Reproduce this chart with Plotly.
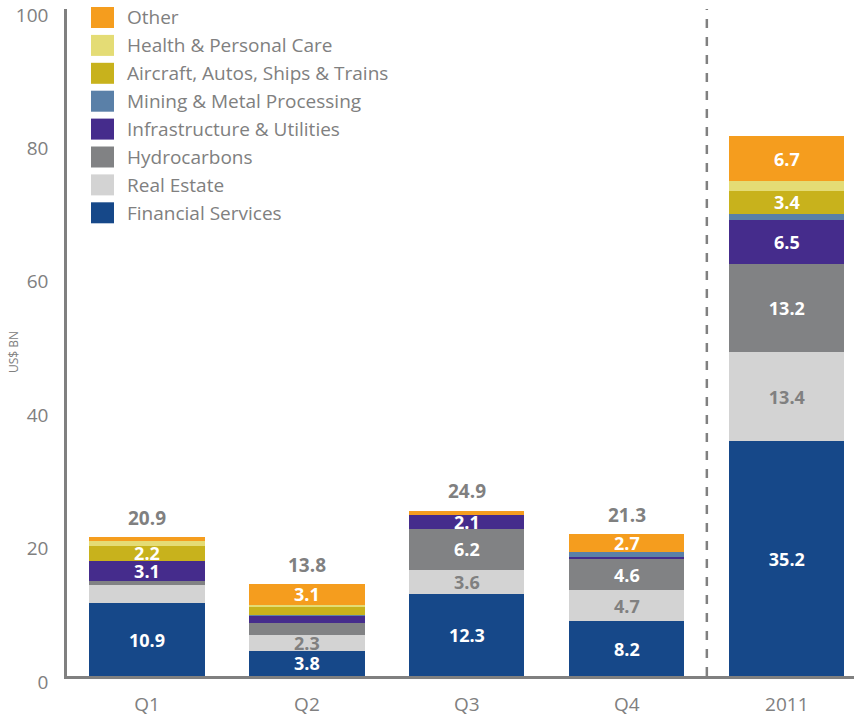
import plotly.graph_objects as go

categories = ["Q1", "Q2", "Q3", "Q4", "2011"]
series_names = ["Financial Services", "Real Estate", "Hydrocarbons", "Infrastructure & Utilities",
                "Mining & Metal Processing", "Aircraft, Autos, Ships & Trains",
                "Health & Personal Care", "Other"]
financial = [10.9, 3.8, 12.3, 8.2, 35.2]
real_estate = [2.8, 2.3, 3.6, 4.7, 13.4]
hydrocarbons = [0.5, 1.8, 6.2, 4.6, 13.2]
infrastructure = [3.1, 1.1, 2.1, 0.3, 6.5]
mining = [0.0, 0.2, 0.0, 0.8, 1.0]
aircraft = [2.2, 1.1, 0.0, 0.0, 3.4]
health = [0.8, 0.4, 0.0, 0.0, 1.5]
other = [0.6, 3.1, 0.5, 2.7, 6.7]
totals = [20.9, 13.8, 24.9, 21.3, 80.9]
y_ticks = [0, 20, 40, 60, 80, 100]
# segment labels the reference leaves out
unlabelled = {("Real Estate", "Q1")}

values = [financial, real_estate, hydrocarbons, infrastructure, mining, aircraft, health, other]
colors = ["#164889", "#d3d3d3", "#818284", "#452c8c", "#5a80a8", "#c8b21c", "#e4dc75", "#f59d1e"]
label_colors = ["white", "#808080", "white", "white", "white", "white", "white", "white"]

GRAY = "#808080"
FONT = "Open Sans"
W, H = 854, 722
ML, MR, MT, MB = 67, 0, 9, 46
PW, PH = W - ML - MR, H - MT - MB

def px_x(x):
    return (x - ML) / PW

def px_y(y):
    return (H - MB - y) / PH

fig = go.Figure()
for name, vals, col, lc in zip(series_names, values, colors, label_colors):
    texts = [f"{v:.1f}" if (v >= 2 and (name, c) not in unlabelled) else ""
             for v, c in zip(vals, categories)]
    fig.add_trace(go.Bar(
        x=categories, y=vals, name=name, marker=dict(color=col, line=dict(width=0)),
        text=texts, textposition="inside", insidetextanchor="middle",
        textfont=dict(color=lc, size=18, family=FONT, weight="bold"),
        hoverinfo="skip", showlegend=False,
    ))

# totals above bars
for c, t in zip(categories, totals):
    fig.add_annotation(x=c, y=t, text=f"{t:.1f}", showarrow=False, yanchor="bottom", yshift=4,
                       font=dict(color=GRAY, size=19, family=FONT, weight="bold"))

# legend drawn manually (Other on top)
for i, (name, col) in enumerate(zip(reversed(series_names), reversed(colors))):
    cy = 17.5 + 27.9 * i
    fig.add_shape(type="rect", xref="paper", yref="paper",
                  x0=px_x(91), x1=px_x(114), y0=px_y(cy + 10.5), y1=px_y(cy - 10.5),
                  fillcolor=col, line=dict(width=0))
    fig.add_annotation(xref="paper", yref="paper", x=px_x(125), y=px_y(cy), text=name,
                       showarrow=False, xanchor="left", yanchor="middle",
                       font=dict(color=GRAY, size=19, family=FONT))

# y axis title
fig.add_annotation(xref="paper", yref="paper", x=px_x(14), y=px_y(352), text="US$ BN",
                   textangle=-90, showarrow=False, xanchor="center", yanchor="middle",
                   font=dict(color=GRAY, size=12, family=FONT))

# dashed separator between Q4 and 2011
fig.add_shape(type="line", xref="x", yref="paper", x0=3.5, x1=3.5, y0=0, y1=1,
              line=dict(color=GRAY, width=2.5, dash="dash"))

fig.update_layout(
    barmode="stack", bargap=0.28, width=W, height=H,
    margin=dict(l=ML, r=MR, t=MT, b=MB, autoexpand=False),
    paper_bgcolor="white", plot_bgcolor="white",
    uniformtext=dict(minsize=18, mode="show"),
    font=dict(family=FONT, color=GRAY),
    xaxis=dict(range=[-0.5, 4.42], showgrid=False, showline=True, linecolor=GRAY, linewidth=2.5,
               ticks="", tickfont=dict(size=19, color=GRAY, family=FONT), fixedrange=True,
               automargin=False, ticklabelstandoff=9),
    yaxis=dict(range=[0, 100], tickvals=y_ticks, showgrid=False, zeroline=False, showline=True,
               linecolor=GRAY, linewidth=2.5, ticks="", ticklabelstandoff=12, ticklabelshift=6,
               tickfont=dict(size=19, color=GRAY, family=FONT), automargin=False,
               fixedrange=True),
)

fig.write_html("out.html", config={"displayModeBar": False},
               post_script="document.body.style.margin='0';")
